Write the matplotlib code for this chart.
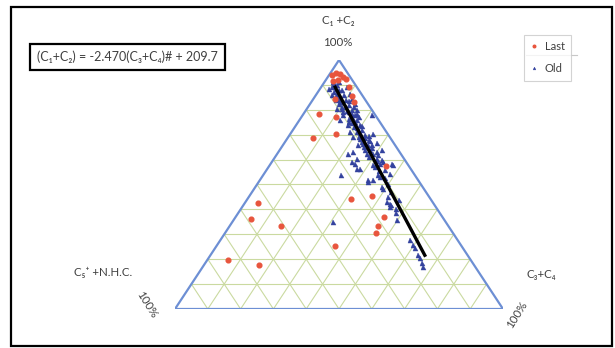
import matplotlib
matplotlib.use("Agg")
import matplotlib.pyplot as plt
from matplotlib.patches import Rectangle
from matplotlib.lines import Line2D

plt.rcParams['font.family'] = ['Lato', 'DejaVu Sans']

# ternary composition, percent: C1+C2 (top corner) and C3+C4 (bottom right corner)
last_c1c2 = [78.3, 77.0, 68.6, 70.3, 42.4, 36.1, 33.5, 19.7, 17.7, 25.3, 44.2, 45.4,
             37.1, 33.3, 30.7, 57.6, 94.0, 94.8, 94.4, 93.2, 92.4, 91.4, 92.0, 89.2,
             85.5, 83.1, 84.5]
last_c3c4 = [4.7, 10.5, 7.8, 13.8, 4.2, 5.2, 15.6, 6.3, 16.9, 36.0, 31.6, 37.4,
             45.1, 45.1, 46.0, 35.4, 0.9, 1.7, 3.1, 4.6, 5.8, 2.5, 3.7, 8.4,
             11.2, 13.0, 6.5]

old_c1c2 = [90.5, 88.5, 86.5, 84.5, 83.1, 81.1, 79.1, 89.2, 86.5, 84.5, 82.4, 79.8,
            77.1, 80.4, 91.2, 81.1,
            77.8, 78.4, 75.1, 73.1, 73.8, 71.1, 69.1, 68.4, 66.4, 65.7, 65.7, 63.7,
            62.4, 62.4, 60.4, 58.4, 63.1, 62.4, 60.4, 59.0, 70.4, 77.9, 58.4, 59.0, 75.8,
            58.4, 56.3, 56.3, 57.7, 54.3, 53.0, 51.7, 51.7, 49.0, 48.3, 43.0, 42.3, 53.7,
            45.1, 41.8, 43.8, 40.0, 57.8, 51.1, 35.1,
            38.4, 35.7, 27.7, 25.7, 24.4, 21.7, 20.4, 18.4, 17.0, 41.1,
            91.0, 90.0, 89.0, 88.0, 87.0, 86.0, 85.0, 84.0, 83.0, 82.0, 81.0, 80.0,
            79.0, 78.0, 77.0, 76.0, 75.0, 74.0, 73.0, 72.0, 71.0, 70.0, 69.0, 68.0,
            67.0, 66.0, 64.0, 63.0, 61.0, 60.0, 57.0, 56.0, 54.0, 50.0, 47.0,
            88.5, 86.0, 84.0, 82.5, 80.5, 79.5, 76.5, 74.5, 72.5, 70.5, 68.5, 67.5,
            65.0, 64.5, 62.0, 59.5, 55.5, 52.5, 88.0, 83.5, 78.5, 73.5, 69.5, 66.5,
            64.0]
old_c3c4 = [3.2, 4.7, 6.2, 7.7, 8.8, 10.3, 11.8, 7.8, 10.2, 11.8, 13.8, 15.6,
            17.4, 9.2, 4.3, 13.9,
            12.4, 14.7, 17.3, 18.8, 15.9, 17.8, 19.8, 22.2, 24.2, 23.0, 26.0, 27.6,
            27.2, 29.3, 31.3, 33.3, 22.8, 21.6, 25.2, 24.4, 25.3, 21.2, 36.9, 34.0, 12.4,
            25.7, 28.2, 27.2, 31.6, 38.3, 36.0, 33.0, 34.6, 38.5, 39.3, 43.0, 44.3, 23.9,
            42.3, 45.1, 46.5, 47.4, 37.7, 33.3, 30.6,
            48.2, 49.9, 57.7, 59.8, 61.0, 63.3, 64.5, 66.0, 67.2, 44.9,
            2.8, 4.5, 3.5, 6.0, 5.0, 8.5, 7.0, 10.0, 9.5, 12.0, 11.5, 14.0,
            13.5, 16.0, 15.5, 17.5, 15.5, 19.5, 18.0, 21.0, 20.0, 23.0, 21.5, 25.0,
            23.5, 27.0, 26.0, 30.0, 28.5, 33.0, 32.5, 36.0, 35.0, 40.0, 42.5,
            2.8, 5.0, 7.0, 8.8, 10.6, 12.8, 14.8, 16.8, 19.3, 21.3, 23.8, 25.8,
            25.0, 27.8, 31.0, 31.8, 34.3, 37.8, 7.0, 11.3, 16.3, 20.3, 24.3, 28.3,
            31.0]

# fitted line: (C1+C2) = slope * (C3+C4)# + intercept, # = horizontal position in %
fit_slope = -2.470
fit_intercept = 209.7
fit_range = [48.6, 76.4]

outline_color = '#6d8fd4'
grid_color = '#cadaa0'
text_color = '#404040'


def to_xy(c1c2, c3c4):
    a = [v / 100 for v in c1c2]
    b = [v / 100 for v in c3c4]
    return [bb + aa / 2 for aa, bb in zip(a, b)], a


fig = plt.figure(figsize=(6.15, 3.48), dpi=100)
ax = fig.add_axes([175 / 615, 39 / 348, 328 / 615, 249 / 348])
ax.set_xlim(0, 1)
ax.set_ylim(0, 1)
ax.axis('off')

# grid, 10% steps along each side
for i in range(1, 10):
    t = i / 10
    ax.plot([t / 2, 1 - t / 2], [t, t], color=grid_color, lw=0.8, zorder=1)
    ax.plot([t, t + (1 - t) / 2], [0, 1 - t], color=grid_color, lw=0.8, zorder=1)
    ax.plot([1 - t, (1 - t) / 2], [0, 1 - t], color=grid_color, lw=0.8, zorder=1)

ax.plot([0, 1, 0.5, 0], [0, 0, 1, 0], color=outline_color, lw=1.6, zorder=2)

x, y = to_xy(old_c1c2, old_c3c4)
ax.plot(x, y, '^', ms=3.6, color='#33429e', mec='#33429e', mew=0.3, zorder=3,
        clip_on=False, label='Old')
x, y = to_xy(last_c1c2, last_c3c4)
ax.plot(x, y, 'o', ms=3.4, color='#e8553d', mec='#e8553d', zorder=4,
        clip_on=False, label='Last')

fx = [v / 100 for v in fit_range]
fy = [(fit_slope * v + fit_intercept) / 100 for v in fit_range]
ax.plot(fx, fy, color='black', lw=2.4, solid_capstyle='butt', zorder=5)

# corner labels
fig.text(338 / 615, 1 - 20 / 348, 'C\u2081 +C\u2082', ha='center', va='center',
         fontsize=8.3, color=text_color)
fig.text(338 / 615, 1 - 42 / 348, '100%', ha='center', va='center',
         fontsize=8.3, color=text_color)
fig.text(103 / 615, 1 - 272 / 348, 'C\u2085\u207a +N.H.C.', ha='center', va='center',
         fontsize=8.3, color=text_color)
fig.text(147 / 615, 1 - 305 / 348, '100%', ha='center', va='center',
         fontsize=8.3, color=text_color, rotation=-58)
fig.text(541 / 615, 1 - 275 / 348, 'C\u2083+C\u2084', ha='center', va='center',
         fontsize=8.3, color=text_color)
fig.text(517 / 615, 1 - 315 / 348, '100%', ha='center', va='center',
         fontsize=8.3, color=text_color, rotation=58)

# regression equation
fig.text(37 / 615, 1 - 57 / 348,
         '(C\u2081+C\u2082) = -2.470(C\u2083+C\u2084)# + 209.7',
         ha='left', va='center', fontsize=9, color=text_color,
         bbox=dict(boxstyle='square,pad=0.55', fc='white', ec='black', lw=1.6))

handles, labels = ax.get_legend_handles_labels()
leg = fig.legend(handles[::-1], labels[::-1], loc='upper right',
                 bbox_to_anchor=(577 / 615, 1 - 29 / 348), fontsize=8,
                 frameon=True, fancybox=False, edgecolor='#c8c8c8',
                 handlelength=0.7, handletextpad=0.6, borderpad=0.6,
                 labelspacing=1.0, markerscale=0.55)
leg.get_frame().set_linewidth(0.8)
for t in leg.get_texts():
    t.set_color(text_color)
fig.add_artist(Line2D([526 / 615, 577 / 615], [1 - 55 / 348, 1 - 55 / 348],
                      transform=fig.transFigure, color='#c8c8c8', lw=0.8))

# outer frame
fig.add_artist(Rectangle((11 / 615, 2 / 348), 601 / 615, 339 / 348,
                         transform=fig.transFigure, fill=False,
                         ec='black', lw=1.6))

fig.savefig('out.png', dpi=100)
